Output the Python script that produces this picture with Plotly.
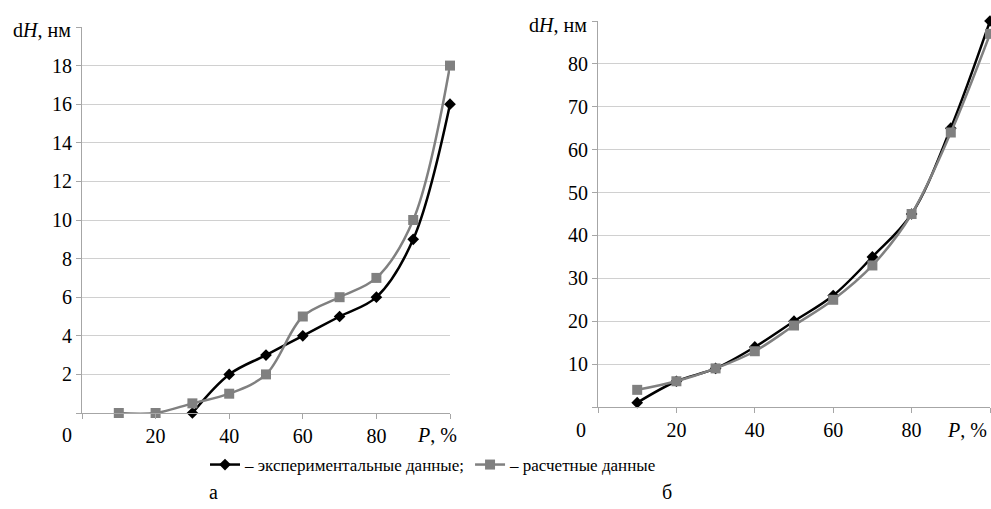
import plotly.graph_objects as go

# ---- data ----
p_a_exp = [30, 40, 50, 60, 70, 80, 90, 100]
dh_a_exp = [0, 2, 3, 4, 5, 6, 9, 16]
p_a_calc = [10, 20, 30, 40, 50, 60, 70, 80, 90, 100]
dh_a_calc = [0, 0, 0.5, 1, 2, 5, 6, 7, 10, 18]

p_b_exp = [10, 20, 30, 40, 50, 60, 70, 80, 90, 100]
dh_b_exp = [1, 6, 9, 14, 20, 26, 35, 45, 65, 90]
p_b_calc = [10, 20, 30, 40, 50, 60, 70, 80, 90, 100]
dh_b_calc = [4, 6, 9, 13, 19, 25, 33, 45, 64, 87]

x_ticks = [0, 20, 40, 60, 80, 100]
x_ticktext = ["", "20", "40", "60", "80", ""]
y_a_ticks = [0, 2, 4, 6, 8, 10, 12, 14, 16, 18, 20]
y_a_text = ["", "2", "4", "6", "8", "10", "12", "14", "16", "18", ""]
y_b_ticks = [0, 10, 20, 30, 40, 50, 60, 70, 80, 90]
y_b_text = ["", "10", "20", "30", "40", "50", "60", "70", "80", ""]

name_exp = "– экспериментальные данные;"
name_calc = "– расчетные данные"

W, H = 991, 509
FONT = "Liberation Serif"
BLACK = "#000000"
GRAY = "#808080"
AXIS = "#a6a6a6"
GRID = "#d0d0d0"

def px_x(v):
    return v / W

def px_y(v):
    return 1 - v / H

fig = go.Figure()

exp_style = dict(mode="lines+markers", line=dict(color=BLACK, width=2.5, shape="spline"),
                 marker=dict(symbol="diamond", size=9, color=BLACK), cliponaxis=False)
calc_style = dict(mode="lines+markers", line=dict(color=GRAY, width=2.5, shape="spline"),
                  marker=dict(symbol="square", size=10, color=GRAY), cliponaxis=False)

fig.add_trace(go.Scatter(x=p_a_exp, y=dh_a_exp, name=name_exp, xaxis="x", yaxis="y",
                         showlegend=True, **exp_style))
fig.add_trace(go.Scatter(x=p_a_calc, y=dh_a_calc, name=name_calc, xaxis="x", yaxis="y",
                         showlegend=True, **calc_style))
fig.add_trace(go.Scatter(x=p_b_exp, y=dh_b_exp, name=name_exp, xaxis="x2", yaxis="y2",
                         showlegend=False, **exp_style))
fig.add_trace(go.Scatter(x=p_b_calc, y=dh_b_calc, name=name_calc, xaxis="x2", yaxis="y2",
                         showlegend=False, **calc_style))

tickfont = dict(family=FONT, size=20, color="#000")

xcommon = dict(range=[0, 100], tickvals=x_ticks, ticktext=x_ticktext, showline=True,
               linecolor=AXIS, linewidth=1, ticks="outside", ticklen=5, tickcolor=AXIS,
               showgrid=False, zeroline=False, tickfont=tickfont, fixedrange=True)
ycommon = dict(showline=True, linecolor=AXIS, linewidth=1, ticks="outside", ticklen=5,
               tickcolor=AXIS, showgrid=True, gridcolor=GRID, gridwidth=1, zeroline=False,
               tickfont=tickfont, fixedrange=True)

fig.update_layout(
    width=W, height=H,
    margin=dict(l=0, r=0, t=0, b=0),
    paper_bgcolor="white", plot_bgcolor="white",
    font=dict(family=FONT, size=20, color="#000"),
    xaxis=dict(domain=[px_x(82), px_x(450)], anchor="y", **xcommon),
    yaxis=dict(domain=[px_y(413), px_y(27)], anchor="x", range=[0, 20],
               tickvals=y_a_ticks, ticktext=y_a_text, **ycommon),
    xaxis2=dict(domain=[px_x(598), px_x(990)], anchor="y2", **xcommon),
    yaxis2=dict(domain=[px_y(407), px_y(21)], anchor="x2", range=[0, 90],
                tickvals=y_b_ticks, ticktext=y_b_text, **ycommon),
    legend=dict(orientation="h", x=px_x(205), y=px_y(465), yanchor="middle", xanchor="left",
                font=dict(family=FONT, size=17, color="#000"), bgcolor="rgba(0,0,0,0)",
                itemwidth=30, tracegroupgap=0),
    showlegend=True,
)

ann = []
def add_text(text, x, y, xanchor="center", size=20):
    ann.append(dict(text=text, x=px_x(x), y=px_y(y), xref="paper", yref="paper",
                    xanchor=xanchor, yanchor="middle", showarrow=False,
                    font=dict(family=FONT, size=size, color="#000")))

add_text("d<i>H</i>, нм", 73, 30, xanchor="right")
add_text("0", 67, 435)
add_text("<i>P</i>, %", 437, 435)
add_text("d<i>H</i>, нм", 589, 25, xanchor="right")
add_text("0", 581, 430)
add_text("<i>P</i>, %", 967, 430)
add_text("а", 213, 492)
add_text("б", 667, 492)

fig.update_layout(annotations=ann)

post = (
    "document.body.style.margin='0';"
    "var s=document.createElement('style');"
    "s.textContent='svg text{font-family:\"Liberation Serif\" !important;}';"
    "document.head.appendChild(s);"
)

fig.write_html("out.html", config={"displayModeBar": False}, post_script=post)
